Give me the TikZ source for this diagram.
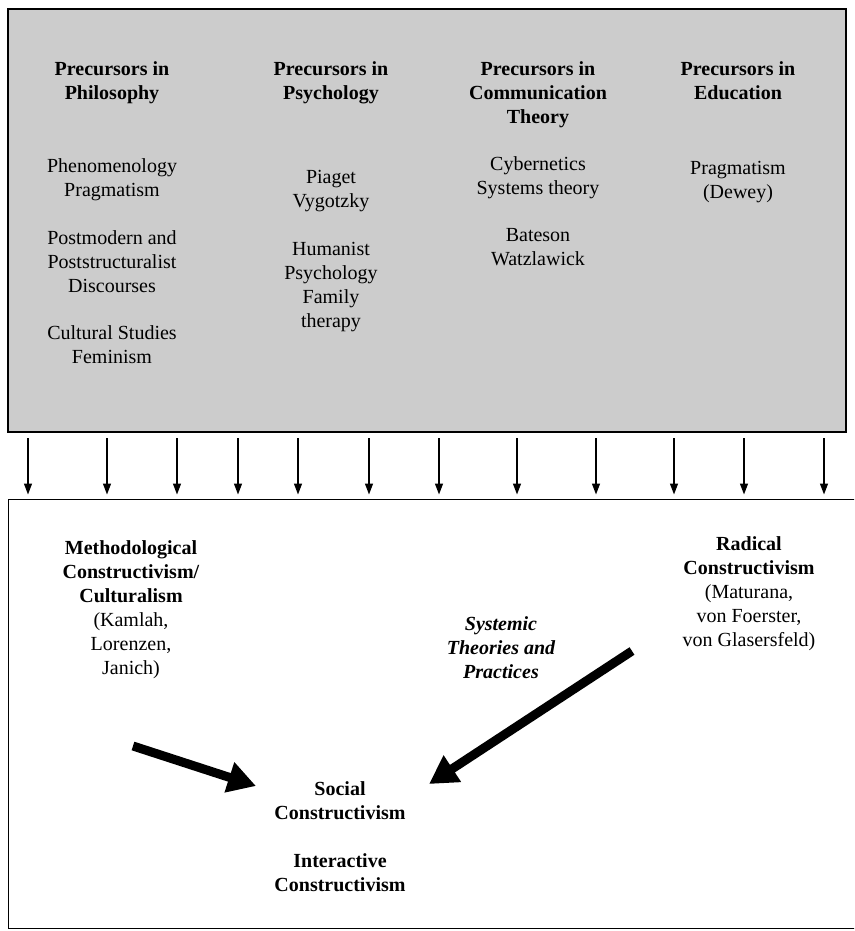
\documentclass[tikz,border=0pt]{standalone}
\usepackage{fontspec}
\setmainfont{Liberation Serif}
\usetikzlibrary{arrows.meta}

\tikzset{
  txt/.style={align=center, anchor=north, inner sep=0pt,
    font=\fontsize{20}{24}\selectfont},
  head/.style={txt, font=\fontsize{20}{24}\selectfont\bfseries},
  thinarr/.style={line width=1.3pt, -{Triangle[width=8pt,length=11pt]},
    shorten <=5pt, shorten >=4pt},
  fatarr/.style={line width=9pt, -{Triangle[width=30pt,length=28pt]}}
}

\begin{document}
\begin{tikzpicture}[x=1pt, y=-1pt]
  \useasboundingbox (0,0) rectangle (854,931);
  \clip (0,0) rectangle (854,931);
  \node (topbox) [draw, line width=2pt, fill=black!20, inner sep=0pt,
    minimum width=838pt, minimum height=423pt] at (427,220.5) {};
  \node (botbox) [draw, line width=1pt, inner sep=0pt,
    minimum width=862pt, minimum height=429pt] at (439,713.5) {};

  \node (phil) [head] at (112,61) {Precursors in\\Philosophy};
  \node (psy) [head] at (331,61) {Precursors in\\Psychology};
  \node (com) [head] at (538,61) {Precursors in\\Communication\\Theory};
  \node (edu) [head] at (738,61) {Precursors in\\Education};

  \node (phen) [txt] at (112,158) {Phenomenology\\Pragmatism};
  \node (post) [txt] at (112,230) {Postmodern and\\Poststructuralist\\Discourses};
  \node (cult) [txt] at (112,325) {Cultural Studies\\Feminism};
  \node (piag) [txt] at (331,170) {Piaget\\Vygotzky};
  \node (hum) [txt] at (331,242) {Humanist\\Psychology\\Family\\therapy};
  \node (cyb) [txt] at (538,156) {Cybernetics\\Systems theory};
  \node (bat) [txt] at (538,228) {Bateson\\Watzlawick};
  \node (prag) [txt] at (738,161) {Pragmatism\\(Dewey)};

  \foreach \x [count=\i] in {28,107,177,238,298,369,439,517,596,674,744,824} {
    \coordinate (c\i) at (\x,0);
    \draw[thinarr] (topbox.south -| c\i) -- (botbox.north -| c\i);
  }

  \node (meth) [txt] at (131,540) {\textbf{Methodological}\\\textbf{Constructivism/}\\
    \textbf{Culturalism}\\(Kamlah,\\Lorenzen,\\Janich)};
  \node (rad) [txt] at (749,536) {\textbf{Radical}\\\textbf{Constructivism}\\
    (Maturana,\\von Foerster,\\von Glasersfeld)};
  \node (sys) [head] at (501,616) {\itshape Systemic\\\itshape Theories and\\\itshape Practices};
  \node (soc) [head] at (340,781) {Social\\Constructivism};
  \node (int) [head] at (340,853) {Interactive\\Constructivism};

  \coordinate (m1) at (133,746);
  \coordinate (m2) at (256,786);
  \coordinate (r1) at (632,651);
  \coordinate (r2) at (429,784);
  \draw[fatarr] (m1) -- (m2);
  \draw[fatarr] (r1) -- (r2);
\end{tikzpicture}
\end{document}
